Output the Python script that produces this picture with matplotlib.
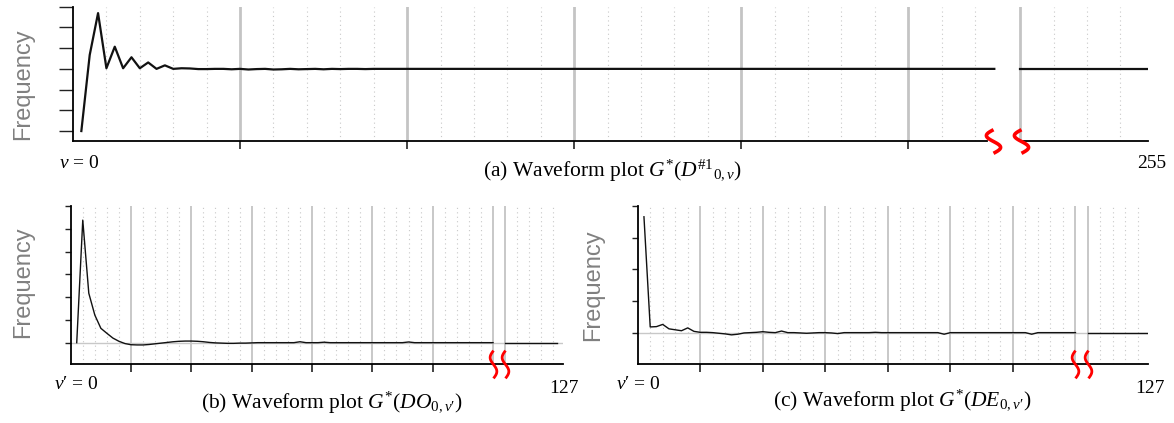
import matplotlib
matplotlib.use("Agg")
import numpy as np
import matplotlib.pyplot as plt
from matplotlib.path import Path
from matplotlib.transforms import blended_transform_factory

plt.rcParams['font.family'] = ['Liberation Serif', 'DejaVu Serif']
plt.rcParams['mathtext.fontset'] = 'custom'
plt.rcParams['mathtext.rm'] = 'Liberation Serif'
plt.rcParams['mathtext.it'] = 'Liberation Serif:italic'
plt.rcParams['mathtext.fallback'] = 'stix'

# (a) waveform G*(D#1_0,v) -- sample index v, value in y-tick units
a_left_v = list(range(0, 36)) + [60, 109.3]
a_left_y = [0.0, 3.67, 5.69, 3.03, 4.07, 3.03, 3.56, 3.03, 3.31, 3.0,
            3.17, 3.0, 3.03, 3.02, 2.99, 2.99, 3.0, 3.0, 2.98, 3.0,
            2.97, 2.99, 3.0, 2.97, 2.98, 3.0, 2.98, 2.99, 3.0, 2.98,
            3.0, 2.99, 3.0, 3.0, 2.99, 3.0, 3.0, 3.0]
a_right_v = [112.4, 127.6]
a_right_y = [3.0, 3.0]

# (b) waveform G*(DO_0,v')
b_left_v = list(range(0, 31)) + [36, 37, 38, 40, 41, 42, 54, 55, 56, 69]
b_left_y = [0.0, 5.38, 2.17, 1.21, 0.63, 0.41, 0.2, 0.06, -0.04, -0.09,
            -0.1, -0.1, -0.08, -0.05, -0.02, 0.01, 0.04, 0.06, 0.07, 0.07,
            0.06, 0.04, 0.01, -0.01, -0.02, -0.03, -0.03, -0.02, -0.02, -0.01,
            0.0, 0.0, 0.04, 0.0, 0.0, 0.02, 0.0, 0.0, 0.03, 0.0, 0.0]
b_right_v = [71, 79.6]
b_right_y = [0.0, 0.0]

# (c) waveform G*(DE_0,v')
c_left_v = list(range(0, 33)) + [36, 37, 38, 47, 48, 49, 61, 62, 63, 69]
c_left_y = [3.66, 0.18, 0.19, 0.26, 0.12, 0.09, 0.06, 0.15, 0.04, 0.01,
            0.01, 0.0, -0.02, -0.04, -0.07, -0.05, -0.01, 0.0, 0.01, 0.03,
            0.01, 0.0, 0.05, 0.0, 0.0, -0.01, -0.02, -0.01, 0.0, 0.0,
            -0.01, -0.03, 0.0, 0.0, 0.01, 0.0, 0.0, -0.05, 0.0, 0.0,
            -0.05, 0.0, 0.0]
c_right_v = [71, 80.6]
c_right_y = [0.0, 0.0]

W, H = 1174, 423
fig = plt.figure(figsize=(W / 100, H / 100), dpi=100)


def box(left, top, right, bottom):
    return [left / W, 1 - bottom / H, (right - left) / W, (bottom - top) / H]


def squiggle(amp):
    t = np.linspace(0, 2 * np.pi, 60)
    return Path(np.column_stack([amp * np.sin(t), t / (2 * np.pi) - 0.5]))


def panel(ax, xlim, ylim, yticks, majors, minors, gaps, breaks, segs,
          lw, grid_lw, ytick_len, baseline, split_axis, mark):
    ax.set_xlim(*xlim)
    ax.set_ylim(*ylim)
    for s in ['top', 'right']:
        ax.spines[s].set_visible(False)
    ax.spines['left'].set_linewidth(1.3)
    ax.spines['bottom'].set_linewidth(1.3)
    ax.set_yticks(yticks)
    ax.set_xticks(majors)
    ax.set_xticklabels([])
    ax.set_yticklabels([])
    ax.tick_params(axis='y', direction='out', length=ytick_len, width=1, color='#222222')
    ax.tick_params(axis='x', direction='out', length=6, width=1.2, color='#222222')
    for m in minors:
        ax.axvline(m, color='#c8c8c8', lw=0.8, ls=(0, (1, 3)), zorder=0)
    for m in majors + gaps:
        ax.axvline(m, color='#c4c4c4', lw=grid_lw, zorder=1)
    if baseline:
        ax.axhline(0, color='#c8c8c8', lw=1, zorder=1)
    for xs, ys in segs:
        ax.plot(xs, ys, color='#111111', lw=lw, zorder=3)
    if split_axis:
        ax.spines['bottom'].set_visible(False)
        tr = blended_transform_factory(ax.transData, ax.transAxes)
        ax.plot([xlim[0], breaks[0] - 0.8], [0, 0], color='black', lw=1.3, transform=tr, clip_on=False)
        ax.plot([breaks[1], xlim[1]], [0, 0], color='black', lw=1.3, transform=tr, clip_on=False)
    amp, size, width = mark
    for b in breaks:
        ax.plot([b], [ylim[0]], marker=squiggle(amp), ms=size, mfc='none',
                mec='red', mew=width, clip_on=False, zorder=5)


# panel (a)
ax_a = fig.add_axes(box(73, 6.7, 1148, 141))
a_majors = [19, 39, 59, 79, 99]
a_minors = [m for m in range(3, 108, 4) if m not in a_majors] + [116.4, 120.4, 124.4]
panel(ax_a, (-1, 127.7), (-0.48, 6), range(0, 7), a_majors, a_minors, [112.4],
      [109.2, 112.5], [(a_left_v, a_left_y), (a_right_v, a_right_y)],
      1.6, 2.0, 10, False, True, (0.3, 17, 2.6))

# panel (b)
ax_b = fig.add_axes(box(70.7, 206, 563, 364.3))
b_majors = [9, 19, 29, 39, 49, 59]
b_minors = [m for m in range(1, 68, 2) if m not in b_majors] + [73, 75, 77, 79]
panel(ax_b, (-1, 80.6), (-0.95, 6), range(0, 7), b_majors, b_minors, [69, 71],
      [69, 71], [(b_left_v, b_left_y), (b_right_v, b_right_y)],
      1.0, 1.3, 4, True, False, (0.12, 20, 2))

# panel (c)
ax_c = fig.add_axes(box(637.7, 206, 1148, 364.3))
c_majors = [9, 19, 29, 39, 49, 59]
c_minors = [m for m in range(1, 68, 2) if m not in c_majors] + [73, 75, 77, 79]
panel(ax_c, (-1, 80.6), (-1.0, 4), range(0, 5), c_majors, c_minors, [69, 71],
      [69, 71], [(c_left_v, c_left_y), (c_right_v, c_right_y)],
      1.0, 1.3, 4, True, False, (0.12, 20, 2))


def label(x, y, s, size, **kw):
    fig.text(x / W, 1 - y / H, s, fontsize=size, ha='center', va='center', **kw)


freq = dict(rotation=90, color='#808080', family=['Liberation Sans', 'DejaVu Sans'])
label(23, 84, 'Frequency', 17, **freq)
label(23, 282, 'Frequency', 17, **freq)
label(593, 285, 'Frequency', 17, **freq)

label(79, 163, '$v$ = 0', 14)
label(1152, 163, '255', 14)
label(612, 170, r'(a) Waveform plot $G^{*}(D^{\#1}{}_{0,v})$', 15.5)

label(76, 384, '$v$′ = 0', 14)
label(564, 388, '127', 14)
label(332, 402, '(b) Waveform plot $G^{*}(DO_{0,v′})$', 15.5)

label(638, 384, '$v$′ = 0', 14)
label(1150, 388, '127', 14)
label(902, 400, '(c) Waveform plot $G^{*}(DE_{0,v′})$', 15.5)

fig.savefig('out.png', dpi=100)
